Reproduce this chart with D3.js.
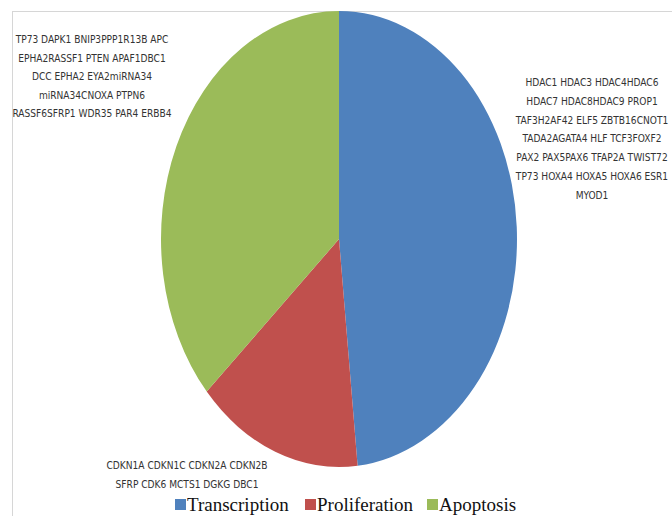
<!DOCTYPE html>
<html>
<head>
<meta charset="utf-8">
<script src="https://cdn.jsdelivr.net/npm/d3@7/dist/d3.min.js"></script>
<style>
html, body { margin: 0; padding: 0; background: #fff; }
svg { display: block; }
</style>
</head>
<body>
<svg id="chart" width="672" height="516"></svg>
<script>
// categories and gene counts per category
var categories = ["Transcription", "Proliferation", "Apoptosis"];
var geneCounts = [29, 9, 22];
var colors = ["#4f81bd", "#c0504d", "#9bbb59"];

// gene labels next to each slice
var transcriptionGenes = [
	"HDAC1 HDAC3 HDAC4HDAC6",
	"HDAC7 HDAC8HDAC9 PROP1",
	"TAF3H2AF42 ELF5 ZBTB16CNOT1",
	"TADA2AGATA4 HLF TCF3FOXF2",
	"PAX2 PAX5PAX6 TFAP2A TWIST72",
	"TP73 HOXA4 HOXA5 HOXA6 ESR1",
	"MYOD1"
];
var proliferationGenes = [
	"CDKN1A CDKN1C CDKN2A CDKN2B",
	"SFRP CDK6 MCTS1 DGKG DBC1"
];
var apoptosisGenes = [
	"TP73 DAPK1 BNIP3PPP1R13B APC",
	"EPHA2RASSF1 PTEN APAF1DBC1",
	"DCC EPHA2 EYA2miRNA34",
	"miRNA34CNOXA PTPN6",
	"RASSF6SFRP1 WDR35 PAR4 ERBB4"
];

var svg = d3.select("#chart");
var W = 672, H = 516;

// light frame (top + left)
svg.append("line").attr("x1", 12).attr("y1", 11.5).attr("x2", W).attr("y2", 11.5)
	.attr("stroke", "#d6d6d6").attr("stroke-width", 1);
svg.append("line").attr("x1", 12.5).attr("y1", 11).attr("x2", 12.5).attr("y2", H)
	.attr("stroke", "#d6d6d6").attr("stroke-width", 1);

// elliptical pie: draw round pie then stretch horizontally
var cx = 339, cy = 239, rx = 178, ry = 228;
var pie = d3.pie().sort(null).value(function(d){return d;});
var arc = d3.arc().innerRadius(0).outerRadius(ry);

var pieG = svg.append("g")
	.attr("transform", "translate(" + cx + "," + cy + ") scale(" + (rx/ry) + ",1)");
pieG.selectAll("path").data(pie(geneCounts)).enter().append("path")
	.attr("d", arc)
	.attr("fill", function(d, i){return colors[i];});

// gene label blocks
var labelFont = "'Liberation Sans Narrow', 'Arial Narrow', 'DejaVu Sans Condensed', sans-serif";
function drawBlock(lines, x, y0, dy){
	svg.append("g").selectAll("text").data(lines).enter().append("text")
		.attr("x", x)
		.attr("y", function(d, i){return y0 + i * dy;})
		.attr("text-anchor", "middle")
		.attr("font-family", labelFont)
		.attr("font-size", 10.1)
		.attr("fill", "#333")
		.text(function(d){return d;});
}
drawBlock(apoptosisGenes, 92, 43, 18.6);
drawBlock(transcriptionGenes, 592, 86, 18.8);
drawBlock(proliferationGenes, 187, 469, 18.5);

// legend
var legendX = [175, 305, 427];
var legend = svg.append("g").selectAll("g").data(categories).enter().append("g")
	.attr("transform", function(d, i){return "translate(" + legendX[i] + ",0)";});
legend.append("rect")
	.attr("x", 0).attr("y", 499).attr("width", 11).attr("height", 11)
	.attr("fill", function(d, i){return colors[i];});
legend.append("text")
	.attr("x", 12).attr("y", 511)
	.attr("font-family", "'Liberation Serif', 'Times New Roman', serif")
	.attr("font-size", 19)
	.attr("fill", "#111")
	.text(function(d){return d;});
</script>
</body>
</html>
